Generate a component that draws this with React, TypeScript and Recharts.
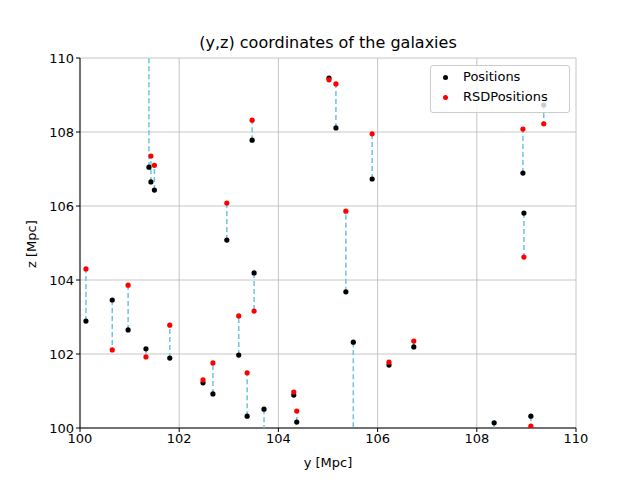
import React from 'react';
import { ScatterChart, Scatter, XAxis, YAxis, CartesianGrid } from 'recharts';

const yPos = [100.12,100.65,100.97,101.33,101.39,101.43,101.5,101.81,102.48,102.68,102.96,103.2,103.37,103.47,103.51,103.71,104.31,104.37,105.02,105.16,105.36,105.51,105.89,106.23,106.73,108.35,108.93,108.95,109.09,109.35];
const zPos = [102.89,103.46,102.65,102.14,107.05,106.65,106.43,101.89,101.22,100.92,105.08,101.97,100.32,107.78,104.19,100.51,100.89,100.16,109.46,108.11,103.68,102.32,106.73,101.7,102.19,100.14,106.89,105.81,100.32,108.73];
const zRsd = [104.30,102.11,103.86,101.92,111.0,107.35,107.1,102.78,101.3,101.76,106.08,103.03,101.49,108.32,103.16,99.5,100.97,100.46,109.41,109.3,105.86,99.0,107.95,101.78,102.35,99.9,108.08,104.62,100.05,108.22];
const ticks = [100,102,104,106,108,110];

const pos = yPos.map((x, i) => ({ x, y: zPos[i] }));
const rsd = yPos.map((x, i) => ({ x, y: zRsd[i] }));
const font = 'DejaVu Sans, sans-serif';

export default function App() {
  return (
    <div style={{ position: 'absolute', left: 0, top: 0, width: 640, height: 480, background: '#fff', fontFamily: font }}>
      <div style={{ position: 'absolute', top: 33, width: '100%', left: 8, textAlign: 'center', fontSize: 16 }}>(y,z) coordinates of the galaxies</div>
      <ScatterChart width={640} height={480} margin={{ top: 58, right: 64, bottom: 22, left: 30 }}>
        <CartesianGrid stroke="#b8b8b8" strokeWidth={0.8} />
        <XAxis type="number" dataKey="x" domain={[100, 110]} ticks={ticks} allowDataOverflow height={30}
          tick={{ fill: '#000', fontSize: 13, fontFamily: font }} stroke="#000" tickSize={4}
          label={{ value: 'y [Mpc]', position: 'insideBottom', offset: -9, fill: '#000', fontSize: 13 }} />
        <YAxis type="number" dataKey="y" domain={[100, 110]} ticks={ticks} allowDataOverflow width={50}
          tick={{ fill: '#000', fontSize: 13, fontFamily: font }} stroke="#000" tickSize={4}
          label={{ value: 'z [Mpc]', angle: -90, position: 'insideLeft', offset: 1, fill: '#000', fontSize: 13, dy: 25 }} />
        {yPos.map((_, i) => (
          <Scatter key={'l' + i} data={[pos[i], rsd[i]]} line={{ stroke: '#6cc4e4', strokeWidth: 1.5, strokeDasharray: '5 3' }}
            shape={() => null} isAnimationActive={false} />
        ))}
        <Scatter data={pos} fill="#000" shape={(p: any) => <circle cx={p.cx} cy={p.cy} r={2.6} fill="#000" />} isAnimationActive={false} />
        <Scatter data={rsd} fill="red" shape={(p: any) => <circle cx={p.cx} cy={p.cy} r={2.6} fill="#ff0000" />} isAnimationActive={false} />
      </ScatterChart>
      <div style={{ position: 'absolute', left: 430, top: 65, width: 138, height: 46, border: '1px solid #ccc', borderRadius: 3, background: 'rgba(255,255,255,0.8)', fontSize: 13 }}>
        <div style={{ position: 'absolute', left: 12, top: 3, whiteSpace: 'nowrap' }}>
          <span style={{ display: 'inline-block', width: 5, height: 5, borderRadius: 3, background: '#000', marginRight: 15, verticalAlign: 'middle' }} />Positions
        </div>
        <div style={{ position: 'absolute', left: 12, top: 23, whiteSpace: 'nowrap' }}>
          <span style={{ display: 'inline-block', width: 5, height: 5, borderRadius: 3, background: '#f00', marginRight: 15, verticalAlign: 'middle' }} />RSDPositions
        </div>
      </div>
    </div>
  );
}
